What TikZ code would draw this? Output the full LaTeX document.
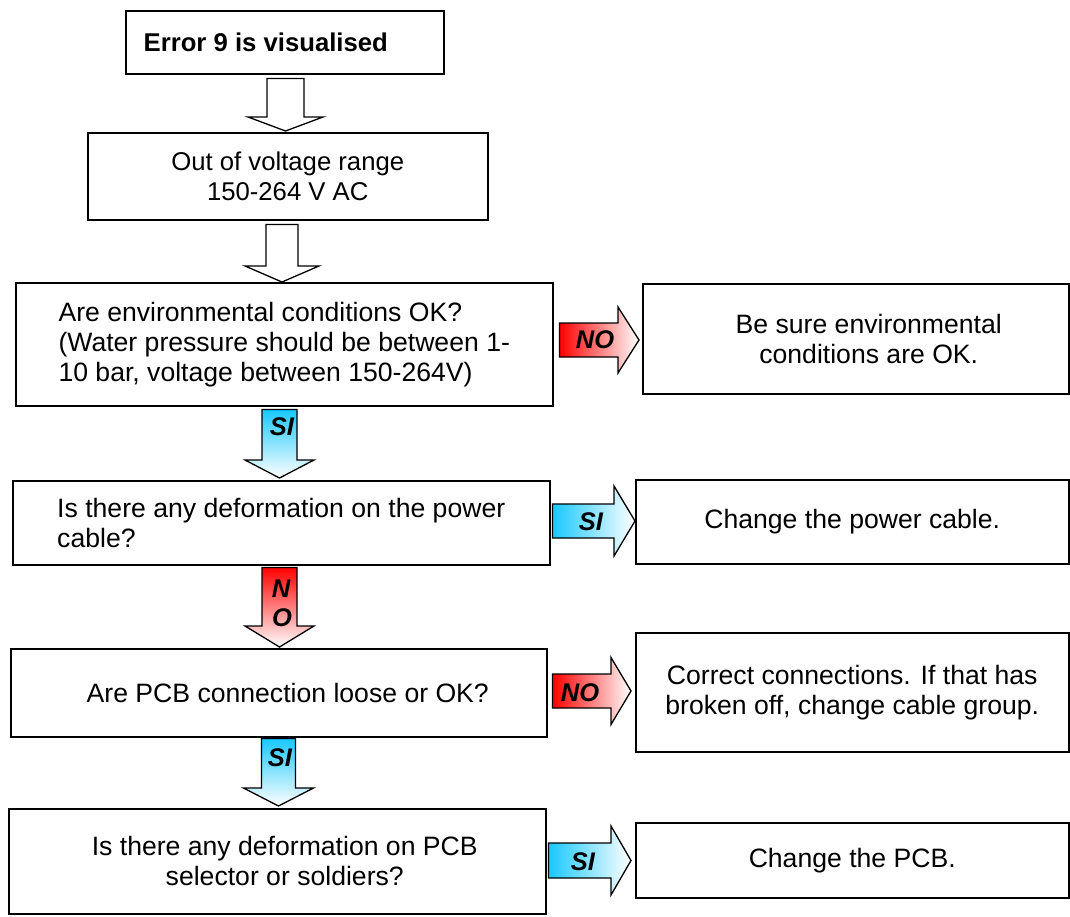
\documentclass[tikz,border=0pt]{standalone}
\usepackage{fontspec}
\setmainfont{Liberation Sans}
\usetikzlibrary{calc}
\definecolor{sicyan}{RGB}{25,200,255}
\definecolor{nored}{RGB}{255,0,0}
% vertical block arrow: style, upper node, lower node, cx, shaft half, head half, head length, gap top, gap tip
\newcommand\vblock[9]{%
 \path[#1] let \p1=(#2.south), \p2=(#3.north) in
  ({(#4-#5)*1pt},{\y1-#8pt}) -- ({(#4+#5)*1pt},{\y1-#8pt})
  -- ({(#4+#5)*1pt},{\y2+#9pt+#7pt}) -- ({(#4+#6)*1pt},{\y2+#9pt+#7pt})
  -- ({#4*1pt},{\y2+#9pt})
  -- ({(#4-#6)*1pt},{\y2+#9pt+#7pt}) -- ({(#4-#5)*1pt},{\y2+#9pt+#7pt}) -- cycle;}
% horizontal block arrow: style, left node, right node, cy, shaft half, head half, head length, gap start, gap tip
\newcommand\hblock[9]{%
 \path[#1] let \p1=(#2.east), \p2=(#3.west) in
  ({\x1+#8pt},{-(#4-#5)*1pt}) -- ({\x2-#9pt-#7pt},{-(#4-#5)*1pt})
  -- ({\x2-#9pt-#7pt},{-(#4-#6)*1pt}) -- ({\x2-#9pt},{-#4*1pt})
  -- ({\x2-#9pt-#7pt},{-(#4+#6)*1pt}) -- ({\x2-#9pt-#7pt},{-(#4+#5)*1pt})
  -- ({\x1+#8pt},{-(#4+#5)*1pt}) -- cycle;}
\tikzset{
 box/.style={draw=black, line width=1.5pt, fill=white, anchor=north west, inner sep=0pt,
   font=\fontsize{26.6}{30}\selectfont},
 smallbox/.style={box, font=\fontsize{25.7}{30}\selectfont},
 hollowV/.style={draw=black, line width=1.3pt, fill=white},
 siV/.style={draw=black, line width=1.3pt, top color=sicyan, bottom color=white},
 noV/.style={draw=black, line width=1.3pt, top color=nored, bottom color=white},
 siH/.style={draw=black, line width=1.3pt, left color=sicyan, right color=white},
 noH/.style={draw=black, line width=1.3pt, left color=nored, right color=white},
 lab/.style={font=\fontsize{25.5}{28}\selectfont\bfseries\itshape, inner sep=0pt}
}
\begin{document}
\begin{tikzpicture}[x=1pt,y=-1pt]
\useasboundingbox[fill=white] (0,0) rectangle (1070,916);
% boxes
\node[smallbox, minimum width=318pt, minimum height=63pt] (b1) at (125,10)
  {\bfseries Error 9 is visualised\hspace*{38pt}};
\node[smallbox, minimum width=400pt, minimum height=87pt, align=center] (b2) at (87,132)
  {Out of voltage range\\150-264 V AC};
\node[box, minimum width=537pt, minimum height=123pt, align=left] (b3) at (15,282)
  {Are environmental conditions OK?\\(Water pressure should be between 1-\\10 bar, voltage between 150-264V)};
\node[box, minimum width=537pt, minimum height=84pt, align=left] (b4) at (12,480)
  {Is there any deformation on the power\\cable?};
\node[box, minimum width=536pt, minimum height=88pt] (b5) at (10,648)
  {\hspace*{18pt}Are PCB connection loose or OK?};
\node[box, minimum width=537pt, minimum height=105pt, align=center] (b6) at (8,808)
  {\hspace*{15pt}Is there any deformation on PCB\\\hspace*{15pt}selector or soldiers?};
\node[box, minimum width=426pt, minimum height=110pt, align=center] (r1) at (642,283)
  {\hspace*{26pt}Be sure environmental\\\hspace*{26pt}conditions are OK.};
\node[box, minimum width=433pt, minimum height=84pt] (r2) at (635,479)
  {Change the power cable.};
\node[box, minimum width=433pt, minimum height=119pt, align=center] (r3) at (635,632)
  {Correct connections. If that has\\broken off, change cable group.};
\node[box, minimum width=433pt, minimum height=75pt] (r4) at (635,822)
  {Change the PCB.};
% vertical block arrows
\vblock{hollowV}{b1}{b2}{285.5}{18.5}{37.5}{14}{4}{1}
\vblock{hollowV}{b2}{b3}{282}{16}{37}{16}{4}{0}
\vblock{siV}{b3}{b4}{279.5}{17.5}{34.5}{18}{3}{2}
\vblock{noV}{b4}{b5}{279.5}{17.5}{34.5}{21}{2}{1}
\vblock{siV}{b5}{b6}{278.5}{17}{35}{18}{1}{2}
% horizontal block arrows
\hblock{noH}{b3}{r1}{340}{17}{33}{21}{6}{3}
\hblock{siH}{b4}{r2}{521}{17}{35}{21}{2}{0}
\hblock{noH}{b5}{r3}{691}{17}{33.5}{20}{5}{4}
\hblock{siH}{b6}{r4}{860.5}{17.5}{34.5}{20}{2}{4}
% labels
\node[lab] (l1) at (282,427) {SI};
\node[lab] (l2) at (281,589) {N};
\node[lab] (l3) at (282,618) {O};
\node[lab] (l4) at (280,758) {SI};
\node[lab] (l5) at (595,340) {NO};
\node[lab] (l6) at (591,522) {SI};
\node[lab] (l7) at (580,693) {NO};
\node[lab] (l8) at (583,862) {SI};
\end{tikzpicture}
\end{document}
